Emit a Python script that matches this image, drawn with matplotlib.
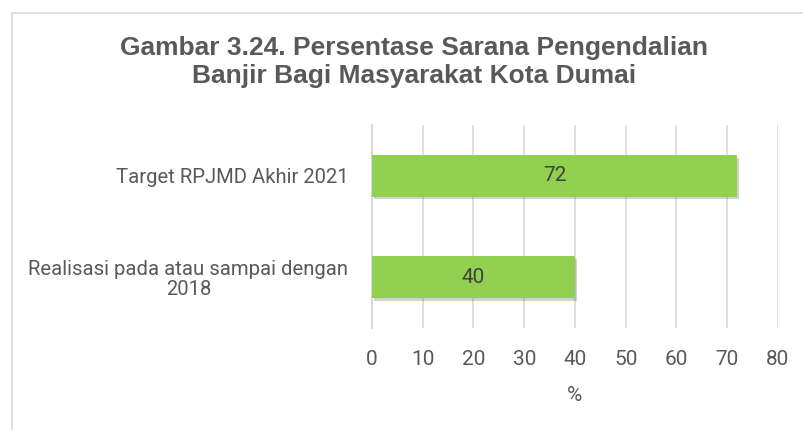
import matplotlib
matplotlib.use("Agg")
import matplotlib.pyplot as plt
import matplotlib.patheffects as pe
from matplotlib.patches import Rectangle
from matplotlib import font_manager

categories = ["Realisasi pada atau sampai dengan\n2018", "Target RPJMD Akhir 2021"]
values = [40, 72]
xticks = [0, 10, 20, 30, 40, 50, 60, 70, 80]
title = "Gambar 3.24. Persentase Sarana Pengendalian\nBanjir Bagi Masyarakat Kota Dumai"
xlabel = "%"

names = {f.name for f in font_manager.fontManager.ttflist}
body_font = "Roboto" if "Roboto" in names else "DejaVu Sans"
title_font = "Liberation Sans" if "Liberation Sans" in names else "DejaVu Sans"

fig = plt.figure(figsize=(8.04, 4.30), dpi=100)
fig.patch.set_facecolor("white")

# outer chart border
fig.patches.append(Rectangle((12/804, -0.1), 1.2, 1 - 12.7/430 + 0.1,
                             transform=fig.transFigure, fill=False,
                             edgecolor="#D9D9D9", linewidth=1.2))

ax = fig.add_axes([372/804, 1 - 328/430, (778 - 372)/804, (328 - 125)/430])
ypos = list(range(len(categories)))
bars = ax.barh(ypos, values, height=0.41, color="#92D050", zorder=3)
for b in bars:
    b.set_path_effects([pe.SimplePatchShadow(offset=(1.5, -2), alpha=0.22, shadow_rgbFace="#333333"),
                        pe.Normal()])
for b, v in zip(bars, values):
    ax.text(b.get_x() + b.get_width()/2, b.get_y() + b.get_height()/2, f"{v}",
            ha="center", va="center", fontsize=15, color="#404040",
            family=body_font, zorder=4)

ax.set_xlim(0, 80)
ax.set_ylim(-0.5, 1.5)
ax.set_xticks(xticks)
ax.set_xticklabels([str(t) for t in xticks], family=body_font, fontsize=15, color="#595959")
ax.set_yticks(ypos)
ax.set_yticklabels(categories, family=body_font, fontsize=14.6, color="#595959",
                   multialignment="center", linespacing=1.05)
ax.tick_params(axis="both", length=0)
ax.tick_params(axis="x", pad=16)
ax.tick_params(axis="y", pad=17)
ax.grid(axis="x", color="#D9D9D9", linewidth=1.2, zorder=0)
ax.grid(axis="y", visible=False)
for s in ["top", "right", "bottom"]:
    ax.spines[s].set_visible(False)
ax.spines["left"].set_color("#D9D9D9")
ax.spines["left"].set_linewidth(1.5)
ax.set_xlabel(xlabel, family=body_font, fontsize=15, color="#595959", labelpad=12)

fig.text(414/804, 1 - 62/430, title, ha="center", va="center", fontsize=19,
         fontweight="bold", family=title_font, color="#595959", linespacing=1.2)

fig.savefig("out.png", dpi=100, facecolor="white")
